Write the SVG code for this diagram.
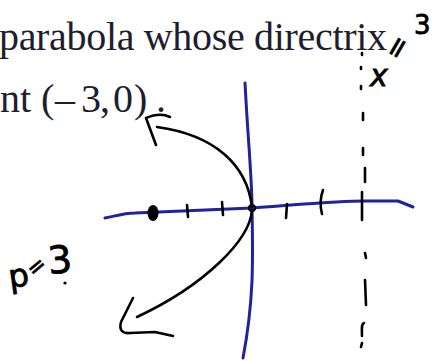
<svg xmlns="http://www.w3.org/2000/svg" width="433" height="361" viewBox="0 0 433 361">
<style>
.print{font-family:"Liberation Serif","Times New Roman",serif;font-size:40px;fill:#1e1e2e}
.hand{font-family:"DejaVu Sans","Liberation Sans",sans-serif;fill:#000;stroke:#000;stroke-width:0.8}
.axis{fill:none;stroke:#22229a;stroke-width:3;stroke-linecap:round;stroke-linejoin:round}
.ink{fill:none;stroke:#000;stroke-width:2.6;stroke-linecap:round;stroke-linejoin:round}
.dash{fill:none;stroke:#000;stroke-width:2.6;stroke-linecap:round}
</style>
<rect width="433" height="361" fill="#fff"/>
<text class="print" x="-1" y="50" textLength="388" lengthAdjust="spacing">parabola whose directrix</text>
<text class="print" y="112"><tspan x="0">nt (</tspan><tspan x="55">–</tspan><tspan x="81">3</tspan><tspan x="100">,</tspan><tspan x="113">0</tspan><tspan x="134">)</tspan><tspan x="156">.</tspan></text>
<g id="axes">
<path class="axis" d="M245,83 C248,140 252,180 252,207 C253,260 254,300 243,358"/>
<path class="axis" d="M105,218 C115,216 125,213 135,213 L252,208 C280,206 300,204 320,203 C340,202 350,201 365,201 L398,201 L413,207"/>
</g>
<g id="ticks">
<path class="ink" d="M187,205 L188,217 M222,202 L223,215 M287,204 L286,218 M323,190 C320,198 320,206 322,214"/>
<ellipse cx="153" cy="213" rx="5.5" ry="8" fill="#000"/>
<circle cx="252" cy="208" r="3" fill="none" stroke="#000" stroke-width="2"/>
</g>
<g id="directrix">
<path class="dash" d="M362,53 L362,55 M361,67 L361,69 M361,86 L361,89 M363,113 L363,120 M363,148 L363,155 M365,168 L365,182 M362,192 L362,220 M365,253 L366,258 M365,280 L366,305 M364,323 C361,324 362,330 362,336 M362,343 L361,347"/>
</g>
<g id="parabola">
<path class="ink" d="M252,207 C247,165 215,135 157,127"/>
<path class="ink" d="M170,117 Q160,112 146,118 L156,145"/>
<path class="ink" d="M252,210 C250,240 205,285 137,317"/>
<path class="ink" d="M133,298 L121,322 Q118,334 130,333 L155,332 L173,336"/>
</g>
<g id="handwriting">
<text class="hand" font-size="30" font-style="italic" x="370" y="86">x</text>
<text class="hand" font-size="28" transform="translate(405,52) rotate(-60)" text-anchor="middle">=</text>
<text class="hand" font-size="26" x="414" y="34">3</text>
<text class="hand" font-size="32" transform="translate(10,288) rotate(-8)">p</text>
<text class="hand" font-size="22" transform="translate(41,272) rotate(-40)" text-anchor="middle">=</text>
<text class="hand" font-size="38" transform="translate(49,274) rotate(-5)">3</text>
<circle cx="65" cy="283" r="1.6" fill="#000"/>
</g>
</svg>
